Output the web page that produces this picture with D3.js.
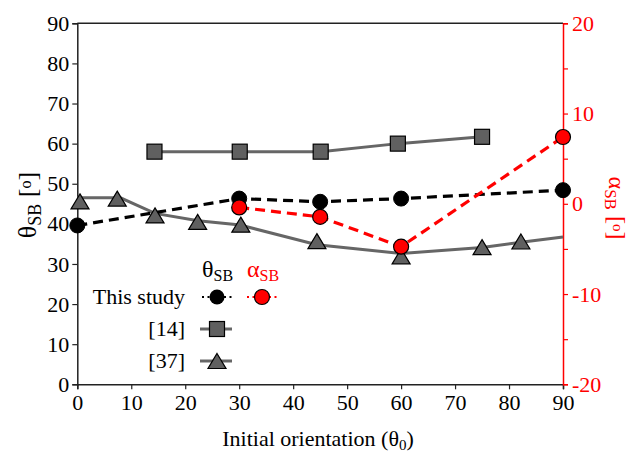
<!DOCTYPE html>
<html><head><meta charset="utf-8">
<script src="https://cdn.jsdelivr.net/npm/d3@7"></script>
</head><body style="margin:0;background:#fff">
<svg id="c" width="630" height="453" font-family="Liberation Serif"></svg>
<script>
// Data
const thetaX = [0, 30, 45, 60, 90];
const thetaY = [39.6, 46.3, 45.5, 46.3, 48.4];
const alphaX = [30, 45, 60, 90];
const alphaY = [-0.4, -1.45, -4.75, 7.4];
const ref14X = [14.3, 30.1, 45.1, 59.4, 75.0];
const ref14Y = [58, 58, 58, 60, 61.7];
const ref37LineX = [0, 8, 14.4, 22.4, 30.2, 44.4, 60, 75, 82.2, 90];
const ref37LineY = [46.5, 46.5, 42.6, 40.8, 39.7, 34.8, 32.6, 34.1, 35.4, 36.7];
const ref37MarkX = [0.5, 7.4, 14.4, 22.3, 30.3, 44.4, 60.0, 75.0, 82.2];
const ref37MarkY = [45.6, 46.3, 42.1, 40.5, 39.8, 35.7, 31.9, 34.2, 35.6];
const xTicks = [0,10,20,30,40,50,60,70,80,90];
const yTicks = [0,10,20,30,40,50,60,70,80,90];
const yRTicks = [-20,-15,-10,-5,0,5,10,15,20];
const yRLabels = [-20,-10,0,10,20];

const FF = "Liberation Serif";
const svg = d3.select("#c");
const L = 77.3, R = 563, T = 23.3, B = 384.3;
const x = d3.scaleLinear().domain([0,90]).range([L,R]);
const y = d3.scaleLinear().domain([0,90]).range([B,T]);
const yR = d3.scaleLinear().domain([-20,20]).range([B,T]);
const gray = "#606060", lineGray = "#666666";

svg.append("line").attr("x1",L).attr("x2",R).attr("y1",T).attr("y2",T).attr("stroke","#222").attr("stroke-width",1.5);

const gx = svg.append("g").attr("transform",`translate(0,${B})`)
  .call(d3.axisBottom(x).tickValues(xTicks).tickSize(5).tickPadding(5).tickFormat(d=>d));
const gy = svg.append("g").attr("transform",`translate(${L},0)`)
  .call(d3.axisLeft(y).tickValues(yTicks).tickSize(5).tickPadding(3).tickFormat(d=>d));
const gr = svg.append("g").attr("transform",`translate(${R},0)`)
  .call(d3.axisRight(yR).tickValues(yRTicks).tickSize(5).tickPadding(4)
    .tickFormat(d => yRLabels.includes(d) ? String(d) : ""));
[gx,gy,gr].forEach(g=>{
  g.attr("font-family",FF).attr("font-size",22);
  g.selectAll(".tick text").attr("font-family",FF).attr("font-size",22);
});
[gx,gy].forEach(g=>{
  g.select(".domain").attr("stroke","#222").attr("stroke-width",1.5);
  g.selectAll(".tick line").attr("stroke","#222").attr("stroke-width",1.2);
  g.selectAll(".tick text").attr("fill","#000");
});
gr.select(".domain").attr("stroke","red").attr("stroke-width",1.5);
gr.selectAll(".tick line").attr("stroke","red").attr("stroke-width",1.2);
gr.selectAll(".tick text").attr("fill","red");

function txt(sel){ return sel.append("text").attr("font-family",FF); }

const xl = txt(svg).attr("x",318).attr("y",446).attr("text-anchor","middle").attr("font-size",22);
xl.append("tspan").text("Initial orientation (θ");
xl.append("tspan").attr("baseline-shift","-25%").attr("font-size",15).text("0");
xl.append("tspan").text(")");

const yl = txt(svg).attr("transform","translate(36,205) rotate(-90)").attr("text-anchor","middle").attr("font-size",26);
yl.append("tspan").text("θ");
yl.append("tspan").attr("baseline-shift","-25%").attr("font-size",18).text("SB");
yl.append("tspan").text(" [");
yl.append("tspan").attr("baseline-shift","30%").attr("font-size",16).text("o");
yl.append("tspan").text("]");

const rl = txt(svg).attr("transform","translate(609,208) rotate(90)").attr("text-anchor","middle").attr("fill","red").attr("font-size",24);
rl.append("tspan").text("α");
rl.append("tspan").attr("baseline-shift","-25%").attr("font-size",17).text("SB");
rl.append("tspan").text(" [");
rl.append("tspan").attr("baseline-shift","30%").attr("font-size",15).text("o");
rl.append("tspan").text("]");

const line = d3.line();
svg.append("path").attr("d", line(ref37LineX.map((d,i)=>[x(d), y(ref37LineY[i])])))
  .attr("fill","none").attr("stroke",lineGray).attr("stroke-width",3);
svg.append("path").attr("d", line(ref14X.map((d,i)=>[x(d), y(ref14Y[i])])))
  .attr("fill","none").attr("stroke",lineGray).attr("stroke-width",3);
svg.append("path").attr("d", line(thetaX.map((d,i)=>[x(d), y(thetaY[i])])))
  .attr("fill","none").attr("stroke","#000").attr("stroke-width",3.2).attr("stroke-dasharray","10,6");
svg.append("path").attr("d", line(alphaX.map((d,i)=>[x(d), yR(alphaY[i])])))
  .attr("fill","none").attr("stroke","red").attr("stroke-width",3.2).attr("stroke-dasharray","10,6");

function triPath(cx, cy, w, h){
  return `M${cx},${cy-h/2}L${cx+w/2},${cy+h/2}L${cx-w/2},${cy+h/2}Z`;
}
ref14X.forEach((d,i)=>{
  svg.append("rect").attr("x",x(d)-7.5).attr("y",y(ref14Y[i])-7.5).attr("width",15).attr("height",15)
    .attr("fill",gray).attr("stroke","#000").attr("stroke-width",1.2);
});
ref37MarkX.forEach((d,i)=>{
  svg.append("path").attr("d",triPath(x(d), y(ref37MarkY[i]), 18, 15))
    .attr("fill",gray).attr("stroke","#000").attr("stroke-width",1.2);
});
thetaX.forEach((d,i)=>{
  svg.append("circle").attr("cx",x(d)).attr("cy",y(thetaY[i])).attr("r",7.5).attr("fill","#000").attr("stroke","#000");
});
alphaX.forEach((d,i)=>{
  svg.append("circle").attr("cx",x(d)).attr("cy",yR(alphaY[i])).attr("r",7.5).attr("fill","red").attr("stroke","#000").attr("stroke-width",1.2);
});

const lg = svg.append("g");
const h1 = txt(lg).attr("x",202).attr("y",277).attr("font-size",24);
h1.append("tspan").text("θ");
h1.append("tspan").attr("baseline-shift","-25%").attr("font-size",16).text("SB");
const h2 = txt(lg).attr("x",247).attr("y",277).attr("fill","red").attr("font-size",24);
h2.append("tspan").text("α");
h2.append("tspan").attr("baseline-shift","-25%").attr("font-size",16).text("SB");

const rows = [{label:"This study", yy:297},{label:"[14]", yy:329},{label:"[37]", yy:361}];
rows.forEach(r=>{
  txt(lg).attr("x",185).attr("y",r.yy+7).attr("text-anchor","end").attr("font-size",22).text(r.label);
});
lg.append("line").attr("x1",202).attr("x2",232).attr("y1",297).attr("y2",297).attr("stroke","#000").attr("stroke-width",2).attr("stroke-dasharray","2,3.5");
lg.append("circle").attr("cx",217).attr("cy",297).attr("r",7.5).attr("fill","#000");
lg.append("line").attr("x1",247).attr("x2",278).attr("y1",297).attr("y2",297).attr("stroke","red").attr("stroke-width",2).attr("stroke-dasharray","2,3.5");
lg.append("circle").attr("cx",262).attr("cy",297).attr("r",7.5).attr("fill","red").attr("stroke","#000").attr("stroke-width",1.2);
lg.append("line").attr("x1",200).attr("x2",232).attr("y1",329).attr("y2",329).attr("stroke",lineGray).attr("stroke-width",3);
lg.append("rect").attr("x",209.5).attr("y",321.5).attr("width",15).attr("height",15).attr("fill",gray).attr("stroke","#000").attr("stroke-width",1.2);
lg.append("line").attr("x1",200).attr("x2",232).attr("y1",361).attr("y2",361).attr("stroke",lineGray).attr("stroke-width",3);
lg.append("path").attr("d",triPath(217,361,18,15)).attr("fill",gray).attr("stroke","#000").attr("stroke-width",1.2);
</script>
</body></html>
